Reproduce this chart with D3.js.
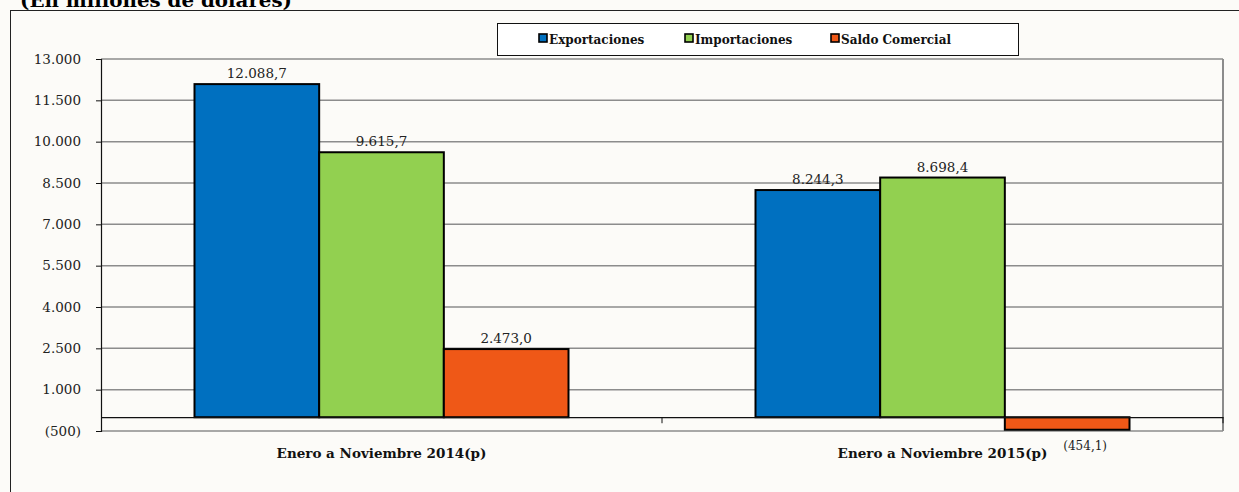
<!DOCTYPE html>
<html>
<head>
<meta charset="utf-8">
<script src="https://cdn.jsdelivr.net/npm/d3@7"></script>
<style>
  body { margin: 0; background: #fcfbf8; }
  svg { display: block; font-family: "DejaVu Serif", "Liberation Serif", serif; }
</style>
</head>
<body>
<svg width="1239" height="492"></svg>
<script>
// === Data

const CATEGORIES = ['Enero a Noviembre 2014(p)', 'Enero a Noviembre 2015(p)'];
const SERIES = ['Exportaciones', 'Importaciones', 'Saldo Comercial'];
const EXPORTACIONES = [12088.7, 8244.3];
const IMPORTACIONES = [9615.7, 8698.4];
const SALDO = [2473.0, -454.1];
const Y_TICKS = [-500, 1000, 2500, 4000, 5500, 7000, 8500, 10000, 11500, 13000];
const COLORS = ['#0070c0', '#92d050', '#ef5817'];

// === Layout

const PLOT = { left: 101, right: 1223, top: 59, bottom: 431 };
const GRID_COLOR = '#8c8c8c';
const FONT = '"DejaVu Serif", "Liberation Serif", serif';

const svg = d3.select('svg');

const fmtNum = d3.formatLocale({ decimal: ',', thousands: '.', grouping: [3], currency: ['', ''] });
const fmtTick = v => v < 0 ? '(' + fmtNum.format(',.0f')(-v) + ')' : fmtNum.format(',.0f')(v);
const fmtVal = v => v < 0 ? '(' + fmtNum.format(',.1f')(-v) + ')' : fmtNum.format(',.1f')(v);

const values = [EXPORTACIONES, IMPORTACIONES, SALDO];
const data = CATEGORIES.map((c, i) => SERIES.map((s, j) => ({ cat: c, series: s, idx: j, value: values[j][i] })));

const y = d3.scaleLinear().domain([-500, 13000]).range([PLOT.bottom, PLOT.top]);
const x0 = d3.scaleBand().domain(CATEGORIES).range([PLOT.left, PLOT.right]);
const barW = x0.bandwidth() / 4.5;
const x1 = d3.scaleBand().domain(SERIES).range([barW * 0.75, barW * 3.75]);

// title (cut off at top)
svg.append('text')
  .attr('x', 20).attr('y', 7)
  .attr('font-size', 19).attr('font-weight', 'bold')
  .attr('textLength', 272).attr('lengthAdjust', 'spacingAndGlyphs')
  .text('(En millones de dólares)');

// outer frame
svg.append('rect')
  .attr('x', 10.5).attr('y', 10.5)
  .attr('width', 1300).attr('height', 600)
  .attr('fill', '#fcfbf8').attr('stroke', '#222').attr('stroke-width', 1);

// grid lines
svg.append('g').selectAll('line')
  .data(Y_TICKS)
  .enter().append('line')
  .attr('x1', PLOT.left).attr('x2', PLOT.right)
  .attr('y1', d => y(d)).attr('y2', d => y(d))
  .attr('stroke', GRID_COLOR).attr('stroke-width', 1.5);

// right border
svg.append('line')
  .attr('x1', PLOT.right).attr('x2', PLOT.right)
  .attr('y1', PLOT.top).attr('y2', PLOT.bottom)
  .attr('stroke', GRID_COLOR).attr('stroke-width', 2);

// y axis
const yAxis = d3.axisLeft(y).tickValues(Y_TICKS).tickFormat(fmtTick).tickSize(5).tickPadding(15);
const yG = svg.append('g')
  .attr('transform', `translate(${PLOT.left},0)`)
  .call(yAxis);
yG.select('.domain').attr('stroke', '#111').attr('stroke-width', 1.2);
yG.selectAll('.tick line').attr('stroke', '#111');
yG.selectAll('.tick text').attr('font-size', 13.5).attr('fill', '#222')
  .attr('font-family', FONT);

// bars
const groups = svg.append('g').selectAll('g')
  .data(data)
  .enter().append('g')
  .attr('transform', d => `translate(${x0(d[0].cat)},0)`);

groups.selectAll('rect')
  .data(d => d)
  .enter().append('rect')
  .attr('x', d => x1(d.series))
  .attr('width', x1.bandwidth())
  .attr('y', d => y(Math.max(0, d.value)))
  .attr('height', d => Math.abs(y(d.value) - y(0)))
  .attr('fill', d => COLORS[d.idx])
  .attr('stroke', '#000').attr('stroke-width', 2);

// value labels
groups.selectAll('text.val')
  .data(d => d)
  .enter().append('text')
  .attr('class', 'val')
  .attr('x', d => x1(d.series) + x1.bandwidth() / 2 + (d.value < 0 ? 18 : 0))
  .attr('y', d => d.value < 0 ? y(d.value) + 20 : y(d.value) - 6)
  .attr('text-anchor', 'middle')
  .attr('font-size', d => d.value < 0 ? 12 : 13.5)
  .attr('fill', '#222')
  .text(d => fmtVal(d.value));

// x axis at zero
const xAxis = d3.axisBottom(x0).tickSize(0).tickFormat('');
const xG = svg.append('g')
  .attr('transform', `translate(0,${y(0)})`)
  .call(xAxis);
xG.select('.domain').attr('stroke', '#111').attr('stroke-width', 1.2);
xG.selectAll('.sep')
  .data([PLOT.left + x0.bandwidth(), PLOT.right])
  .enter().append('line')
  .attr('class', 'sep')
  .attr('x1', d => d).attr('x2', d => d)
  .attr('y1', 0).attr('y2', 6)
  .attr('stroke', '#111');

// category labels
svg.append('g').selectAll('text')
  .data(CATEGORIES)
  .enter().append('text')
  .attr('x', d => x0(d) + x0.bandwidth() / 2)
  .attr('y', 458)
  .attr('text-anchor', 'middle')
  .attr('font-size', 13.5).attr('font-weight', 'bold')
  .attr('fill', '#111')
  .text(d => d);

// legend
const legend = svg.append('g');
legend.append('rect')
  .attr('x', 497.5).attr('y', 23.5).attr('width', 521).attr('height', 32)
  .attr('fill', '#fff').attr('stroke', '#111').attr('stroke-width', 1);
const LEGEND_X = [538, 684, 830];
const items = legend.selectAll('g.item')
  .data(SERIES)
  .enter().append('g')
  .attr('class', 'item')
  .attr('transform', (d, i) => `translate(${LEGEND_X[i]},0)`);
items.append('rect')
  .attr('x', 1).attr('y', 34).attr('width', 8).attr('height', 8)
  .attr('fill', (d, i) => COLORS[i]).attr('stroke', '#000').attr('stroke-width', 1.6);
items.append('text')
  .attr('x', 11).attr('y', 43.5)
  .attr('font-size', 12).attr('font-weight', 'bold')
  .attr('fill', '#111')
  .text(d => d);
</script>
</body>
</html>
